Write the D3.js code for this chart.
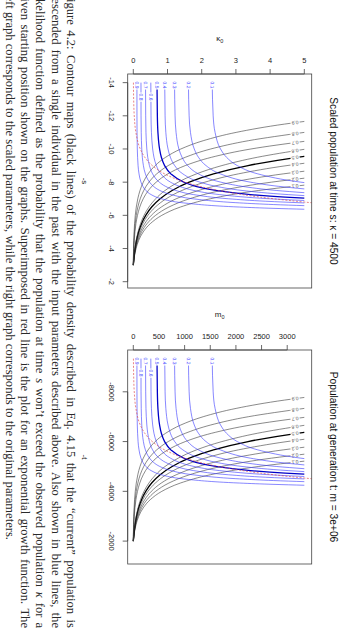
<!DOCTYPE html>
<html><head><meta charset="utf-8">
<script src="https://cdn.jsdelivr.net/npm/d3@7"></script>
<style>body{margin:0;background:#fff}svg{display:block}</style>
</head><body>
<script>
// ---------- data (scaled units: negS = -s, kappa0) ----------
const kappaObs = 4500;          // κ (scaled observed population)
const mObs = 3e6;               // m (observed population)
const kappaTicks = [0, 1, 2, 3, 4, 5];
const negSTicks = [-14, -12, -10, -8, -6, -4, -2];
const m0Ticks = [0, 500, 1000, 1500, 2000, 2500, 3000];
const tTicks = [-8000, -6000, -4000, -2000];
const levels = [0.1, 0.2, 0.3, 0.4, 0.5, 0.6, 0.7, 0.8, 0.9];

// black contour lines (probability density), [negS, kappa0]
const black01 = [[-3,0],[-3.5,0.0307],[-4,0.0803],[-4.5,0.160],[-5,0.289],[-5.5,0.498],[-6,0.834],[-6.5,1.377],[-7,2.253],[-7.5,3.667],[-7.82,5]];
const black02 = [[-3,0],[-3.5,0.0277],[-4,0.0706],[-4.5,0.137],[-5,0.241],[-5.5,0.402],[-6,0.652],[-6.5,1.041],[-7,1.644],[-7.5,2.580],[-8,4.04],[-8.24,5]];
const black03 = [[-3,0],[-3.5,0.0252],[-4,0.063],[-4.5,0.120],[-5,0.205],[-5.5,0.334],[-6,0.527],[-6.5,0.818],[-7,1.255],[-7.5,1.911],[-8,2.899],[-8.5,4.384],[-8.66,5]];
const black04 = [[-3,0],[-3.5,0.0228],[-4,0.056],[-4.5,0.104],[-5,0.175],[-5.5,0.277],[-6,0.427],[-6.5,0.644],[-7,0.961],[-7.5,1.422],[-8,2.094],[-8.5,3.072],[-9,4.495],[-9.14,5]];
const black05 = [[-3,0],[-3.5,0.0211],[-4,0.051],[-4.5,0.0936],[-5,0.154],[-5.5,0.240],[-6,0.363],[-6.5,0.537],[-7,0.784],[-7.5,1.135],[-8,1.635],[-8.5,2.345],[-9,3.355],[-9.5,4.79],[-9.56,5]];
const black06 = [[-3,0],[-3.5,0.0196],[-4,0.0469],[-4.5,0.0848],[-5,0.138],[-5.5,0.211],[-6,0.313],[-6.5,0.456],[-7,0.654],[-7.5,0.930],[-8,1.314],[-8.5,1.848],[-9,2.591],[-9.5,3.626],[-9.98,5]];
const black07 = [[-3,0],[-3.5,0.0058],[-4,0.0146],[-4.5,0.0277],[-5,0.0474],[-5.5,0.0772],[-6,0.1218],[-6.5,0.189],[-7,0.290],[-7.5,0.441],[-8,0.669],[-8.5,1.010],[-9,1.521],[-9.5,2.288],[-10,3.439],[-10.46,5]];
const black08 = [[-3,0],[-3.5,0.0043],[-4,0.0106],[-4.5,0.0201],[-5,0.0341],[-5.5,0.0551],[-6,0.0862],[-6.5,0.133],[-7,0.202],[-7.5,0.305],[-8,0.457],[-8.5,0.684],[-9,1.021],[-9.5,1.521],[-10,2.264],[-10.5,3.366],[-11,5]];
const black09 = [[-3,0],[-3.5,0.0029],[-4,0.0072],[-4.5,0.0136],[-5,0.0230],[-5.5,0.0368],[-6,0.0571],[-6.5,0.0872],[-7,0.131],[-7.5,0.196],[-8,0.292],[-8.5,0.433],[-9,0.640],[-9.5,0.944],[-10,1.390],[-10.5,2.045],[-11,3.007],[-11.5,4.419],[-11.66,5]];
const blackCurves = [black01, black02, black03, black04, black05, black06, black07, black08, black09];

// blue lines (likelihood), [negS, kappa0]
const blue01 = [[-14,2.307],[-12,2.335],[-11,2.391],[-10,2.550],[-9.5,2.725],[-9,3.040],[-8.5,3.640],[-8,4.898],[-7.973,5]];
const blue02 = [[-14,1.612],[-12,1.632],[-11,1.671],[-10,1.782],[-9.5,1.905],[-9,2.125],[-8.5,2.544],[-8,3.423],[-7.75,4.242],[-7.593,5]];
const blue03 = [[-14,1.206],[-12,1.221],[-11,1.250],[-10,1.333],[-9.5,1.425],[-9,1.589],[-8.5,1.903],[-8,2.561],[-7.75,3.174],[-7.5,4.179],[-7.365,5]];
const blue04 = [[-14,0.918],[-12,0.929],[-11,0.951],[-10,1.015],[-9.5,1.084],[-9,1.210],[-8.5,1.448],[-8,1.949],[-7.75,2.415],[-7.5,3.180],[-7.25,4.529],[-7.19,5]];
const blue05 = [[-14,0.694],[-12,0.703],[-11,0.720],[-10,0.768],[-9.5,0.820],[-9,0.915],[-8.5,1.096],[-8,1.474],[-7.75,1.827],[-7.5,2.406],[-7.25,3.426],[-7.1,4.437],[-7.038,5]];
const blue06 = [[-14,0.512],[-12,0.518],[-11,0.530],[-10,0.566],[-9.5,0.604],[-9,0.674],[-8.5,0.807],[-8,1.087],[-7.75,1.346],[-7.5,1.773],[-7.25,2.525],[-7,3.975],[-6.894,5]];
const blue07 = [[-14,0.357],[-12,0.362],[-11,0.370],[-10,0.395],[-9.5,0.422],[-9,0.471],[-8.5,0.564],[-8,0.759],[-7.75,0.940],[-7.5,1.238],[-7.25,1.763],[-7,2.776],[-6.85,3.870],[-6.748,5]];
const blue08 = [[-14,0.224],[-12,0.226],[-11,0.232],[-10,0.247],[-9.5,0.264],[-9,0.295],[-8.5,0.353],[-8,0.475],[-7.75,0.588],[-7.5,0.774],[-7.25,1.103],[-7,1.736],[-6.75,3.109],[-6.65,4.104],[-6.584,5]];
const blue09 = [[-14,0.106],[-12,0.107],[-11,0.109],[-10,0.117],[-9.5,0.125],[-9,0.139],[-8.5,0.167],[-8,0.224],[-7.75,0.278],[-7.5,0.366],[-7.25,0.521],[-7,0.820],[-6.75,1.469],[-6.5,3.104],[-6.42,4.114],[-6.368,5]];
const blueCurves = [blue01, blue02, blue03, blue04, blue05, blue06, blue07, blue08, blue09];
const blueLabelRow = [0, 0, 0, 0, 0, 1, 0, 1, 0];   // staggered label rows

// red dashed line (exponential growth), [negS, kappa0]
const redExp = [[-14,0.0037],[-13,0.0101],[-12,0.0276],[-11,0.0750],[-10,0.204],[-9.5,0.336],[-9,0.555],[-8.5,0.915],[-8,1.510],[-7.5,2.489],[-7,4.104],[-6.8,5.01],[-6.7,5.54]];

// ---------- drawing ----------
const W = 340, H = 630;
const svg = d3.select("body").append("svg").attr("width", W).attr("height", H);
svg.append("rect").attr("width", W).attr("height", H).attr("fill", "#fff");
// page is rotated 90° clockwise
const page = svg.append("g").attr("transform", `translate(${W},0) rotate(90)`);

const SANS = "Liberation Sans, Arial, sans-serif";
const ratio = mObs / kappaObs;

const panels = [
  { u0: 74, u1: 288, v0: 28.3, v1: 212.3, f: 1, xTicks: negSTicks, yTicks: kappaTicks,
    xLab: "-s", yLab: "κ", title: "Scaled population at time s:  κ = " + kappaObs, id: "L" },
  { u0: 350, u1: 564, v0: 28.3, v1: 212.3, f: ratio, xTicks: tTicks, yTicks: m0Ticks,
    xLab: "-t", yLab: "m", title: "Population at generation t:  m = 3e+06", id: "R" }
];

function crossing(pts, idx, target) {
  for (let i = 0; i < pts.length - 1; i++) {
    const a = pts[i], b = pts[i + 1];
    if ((a[idx] - target) * (b[idx] - target) <= 0 && a[idx] !== b[idx]) {
      const t = (target - a[idx]) / (b[idx] - a[idx]);
      return { p: [a[0] + t * (b[0] - a[0]), a[1] + t * (b[1] - a[1])], a, b };
    }
  }
  return null;
}

function drawPanel(P) {
  const f = P.f;
  const x = d3.scaleLinear().domain([-14.52 * f, -1.62 * f]).range([P.u0, P.u1]);
  const y = d3.scaleLinear().domain([-0.164 * f, 5.216 * f]).range([P.v1, P.v0]);
  const g = page.append("g");
  g.append("clipPath").attr("id", "clip" + P.id).append("rect")
    .attr("x", P.u0).attr("y", P.v0).attr("width", P.u1 - P.u0).attr("height", P.v1 - P.v0);
  const plot = g.append("g").attr("clip-path", `url(#clip${P.id})`);
  const line = d3.line().x(d => x(d[0] * f)).y(d => y(d[1] * f)).curve(d3.curveMonotoneX);
  const sorted = c => c.slice().sort((a, b) => a[0] - b[0]);

  function label(c, idx, target, txt, color, bg) {
    const r = crossing(c, idx, target);
    if (!r) return;
    const u = x(r.p[0] * f), v = y(r.p[1] * f);
    const du = x(r.b[0] * f) - x(r.a[0] * f), dv = y(r.b[1] * f) - y(r.a[1] * f);
    let ang = Math.atan2(dv, du) * 180 / Math.PI;
    if (ang > 90) ang -= 180;
    if (ang <= -90) ang += 180;
    const lg = plot.append("g").attr("transform", `translate(${u},${v}) rotate(${ang})`);
    lg.append("rect").attr("x", -4.6).attr("y", -2.2).attr("width", 9.2).attr("height", 4.4).attr("fill", bg);
    lg.append("text").attr("text-anchor", "middle").attr("dy", "0.35em")
      .attr("font-family", SANS).attr("font-size", 5).attr("fill", color).text(txt);
  }

  // black contours
  blackCurves.forEach((c, i) => {
    plot.append("path").attr("d", line(sorted(c))).attr("fill", "none")
      .attr("stroke", levels[i] === 0.5 ? "#000" : "#3a3a3a")
      .attr("stroke-width", levels[i] === 0.5 ? 1.3 : 0.6);
  });
  blackCurves.forEach((c, i) => label(c, 1, 4.73, String(levels[i]), "#555", "#fff"));

  // blue likelihood contours
  blueCurves.forEach((c, i) => {
    plot.append("path").attr("d", line(sorted(c))).attr("fill", "none")
      .attr("stroke", levels[i] === 0.5 ? "#0000c8" : "#3838ff")
      .attr("stroke-width", levels[i] === 0.5 ? 1.3 : 0.6);
  });
  blueCurves.forEach((c, i) => label(c, 0, blueLabelRow[i] ? -13.13 : -13.86, String(levels[i]), "#4040ff", "#fff"));

  // red exponential growth
  plot.append("path").attr("d", line(sorted(redExp))).attr("fill", "none")
    .attr("stroke", "#e05050").attr("stroke-width", 0.7).attr("stroke-dasharray", "2,1.6");

  // box
  g.append("rect").attr("x", P.u0).attr("y", P.v0).attr("width", P.u1 - P.u0).attr("height", P.v1 - P.v0)
    .attr("fill", "none").attr("stroke", "#444").attr("stroke-width", 0.8);

  // x axis (bottom in page frame)
  const xa = g.append("g");
  xa.append("line").attr("x1", x(P.xTicks[0])).attr("x2", x(P.xTicks[P.xTicks.length - 1]))
    .attr("y1", P.v1).attr("y2", P.v1).attr("stroke", "#444").attr("stroke-width", 0.8);
  P.xTicks.forEach(t => {
    xa.append("line").attr("x1", x(t)).attr("x2", x(t)).attr("y1", P.v1).attr("y2", P.v1 + 5)
      .attr("stroke", "#444").attr("stroke-width", 0.8);
    xa.append("text").attr("x", x(t)).attr("y", P.v1 + 18.3).attr("text-anchor", "middle")
      .attr("font-family", SANS).attr("font-size", 7.5).attr("fill", "#222").text(String(t));
  });
  // y axis (left in page frame)
  const ya = g.append("g");
  ya.append("line").attr("x1", P.u0).attr("x2", P.u0)
    .attr("y1", y(P.yTicks[0])).attr("y2", y(P.yTicks[P.yTicks.length - 1])).attr("stroke", "#444").attr("stroke-width", 0.8);
  P.yTicks.forEach(t => {
    ya.append("line").attr("x1", P.u0 - 5).attr("x2", P.u0).attr("y1", y(t)).attr("y2", y(t))
      .attr("stroke", "#444").attr("stroke-width", 0.8);
    ya.append("text").attr("transform", `translate(${P.u0 - 11.3},${y(t)}) rotate(-90)`)
      .attr("text-anchor", "middle").attr("font-family", SANS).attr("font-size", 7.5)
      .attr("fill", "#222").text(String(t));
  });
  // axis labels
  const uc = (P.u0 + P.u1) / 2, vc = (P.v0 + P.v1) / 2;
  g.append("text").attr("x", uc).attr("y", P.v1 + 45.7).attr("text-anchor", "middle")
    .attr("font-family", SANS).attr("font-size", 8).attr("fill", "#222").text(P.xLab);
  const yl = g.append("text").attr("transform", `translate(${P.u0 - 33},${vc}) rotate(-90)`)
    .attr("text-anchor", "middle").attr("font-family", SANS).attr("font-size", 8).attr("fill", "#222");
  yl.append("tspan").text(P.yLab);
  yl.append("tspan").attr("font-size", 5.5).attr("dy", 2).text("0");
  // title
  g.append("text").attr("x", uc).attr("y", 10.5).attr("text-anchor", "middle")
    .attr("font-family", SANS).attr("font-size", 10.2).attr("fill", "#111").text(P.title);
}
panels.forEach(drawPanel);

// ---------- caption ----------
const captionLines = [
  [["Figure 4.2: Contour maps (black lines) of the probability density described in Eq. 4.15 that the “current” population is", 0]],
  [["descended from a single individual in the past with the input parameters described above. Also shown in blue lines, the", 0]],
  [["likelihood function defined as the probability that the population at time ", 0], ["s", 1], [" won’t exceed the observed population ", 0], ["κ", 1], [" for a", 0]],
  [["given starting position shown on the graphs. Superimposed in red line is the plot for an exponential growth function. The", 0]],
  [["left graph corresponds to the scaled parameters, while the right graph corresponds to the original parameters.", 0]]
];
const capBase = [273, 288.3, 303.6, 318.9, 334.2];
const capLeft = -8, capRight = 628;
captionLines.forEach((parts, i) => {
  const t = page.append("text").attr("x", capLeft).attr("y", capBase[i])
    .attr("font-family", "Liberation Serif, 'DejaVu Serif', serif").attr("font-size", 12.6).attr("fill", "#2a2a2a");
  parts.forEach(p => t.append("tspan").attr("font-style", p[1] ? "italic" : null).text(p[0]));
  if (i < captionLines.length - 1) {
    const full = parts.map(p => p[0]).join("");
    const spaces = (full.match(/ /g) || []).length;
    const len = t.node().getComputedTextLength();
    t.attr("word-spacing", ((capRight - capLeft) - len) / spaces);
  }
});
</script>
</body></html>
